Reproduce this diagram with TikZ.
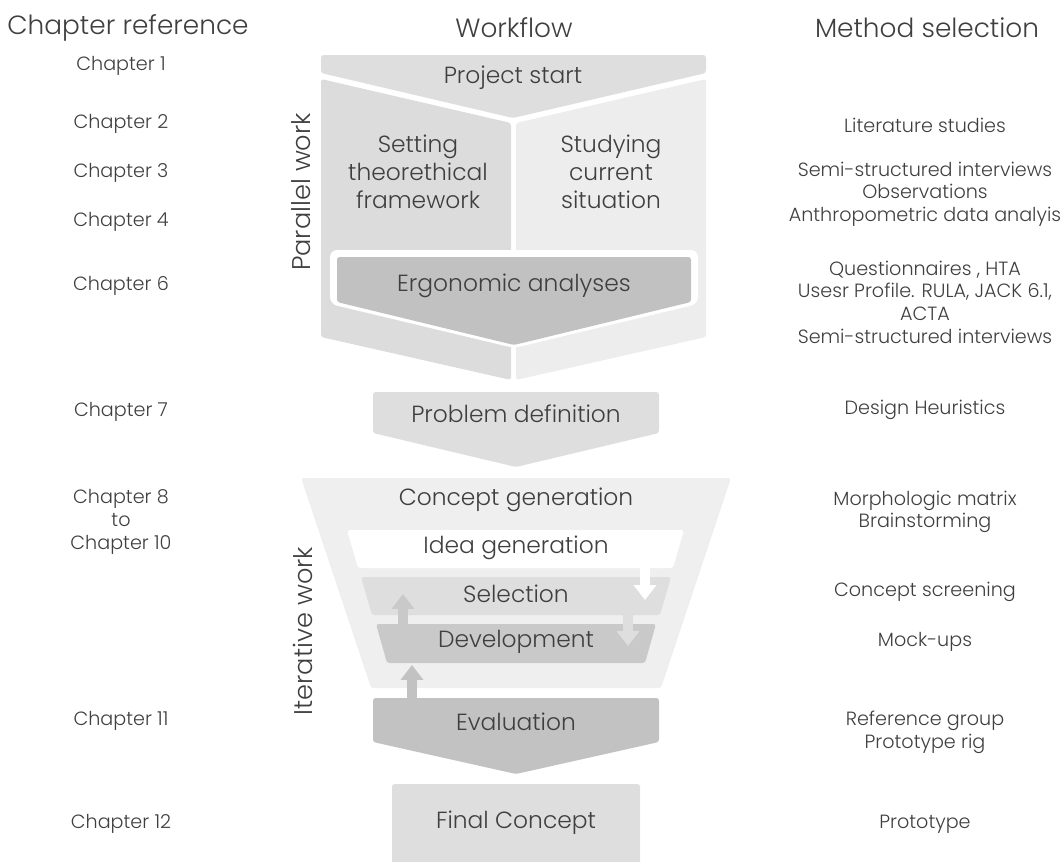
\documentclass[tikz,border=0pt]{standalone}
\usepackage{fontspec}
\IfFontExistsTF{Poppins Light}{\setmainfont{Poppins Light}}{\setmainfont{Poppins}}
\usetikzlibrary{arrows.meta}

\definecolor{txtgray}{HTML}{3F3F3F}
\definecolor{startgray}{HTML}{DEDEDF}
\definecolor{leftgray}{HTML}{DCDCDD}
\definecolor{rightgray}{HTML}{EDEDED}
\definecolor{ergogray}{HTML}{C1C1C2}
\definecolor{funnelgray}{HTML}{EFEFEF}
\definecolor{selgray}{HTML}{DEDEDE}
\definecolor{devgray}{HTML}{C9C9C9}
\definecolor{evalgray}{HTML}{C2C2C2}

\begin{document}
\begin{tikzpicture}[x=0.02cm, y=-0.02cm, rounded corners=1.5pt,
    every node/.style={text=txtgray, align=center, inner sep=0pt},
    head/.style={font=\fontsize{15}{18}\selectfont},
    chap/.style={font=\fontsize{10.9}{12.9}\selectfont},
    stage/.style={font=\fontsize{13.3}{16}\selectfont},
    side/.style={font=\fontsize{14.6}{17}\selectfont, rotate=90},
    loop/.style={line width=5.67pt, -{Triangle[width=12.5pt,length=8.5pt]}}]
    \useasboundingbox (0,0) rectangle (1062,862);

    % column heads
    \node (hchap) at (128,28) [head] {Chapter reference};
    \node (hflow) at (514,28) [head] {Workflow};
    \node (hmeth) at (927,28) [head] {Method selection};

    % parallel work
    \fill [startgray] (321,55) -- (706,55) -- (706,73) -- (513,118) -- (321,73) -- cycle;
    \fill [leftgray] (321,79) -- (511,123) -- (511,380) -- (321,337) -- cycle;
    \fill [rightgray] (516,123) -- (706,79) -- (706,337) -- (516,380) -- cycle;
    \fill [white, rounded corners=4pt] (330,250) -- (698,250) -- (698,304) -- (514,348) -- (330,304) -- cycle;
    \fill [ergogray] (337,257) -- (691,257) -- (691,302) -- (514,345) -- (337,302) -- cycle;
    \node (start) at (513,78) [stage] {Project start};
    \node (theory) at (418,172) [stage] {Setting\\theorethical\\framework};
    \node (current) at (611,172) [stage] {Studying\\current\\situation};
    \node (ergo) at (514,286) [stage] {Ergonomic analyses};
    \node (parallel) at (301,192) [side] {Parallel work};

    % problem definition
    \fill [selgray] (373,392) -- (659,392) -- (659,433) -- (516,467) -- (373,433) -- cycle;
    \node (problem) at (516,414) [stage] {Problem definition};

    % iterative work
    \fill [funnelgray] (301,478) -- (731,478) -- (661,688) -- (371,688) -- cycle;
    \fill [white] (347,530) -- (684,530) -- (673,568) -- (358,568) -- cycle;
    \fill [selgray] (361,577) -- (671,577) -- (660,615) -- (372,615) -- cycle;
    \fill [devgray] (376,624) -- (656,624) -- (645,663) -- (387,663) -- cycle;
    \node (concept) at (516,500) [stage] {Concept generation};
    \node (idea) at (516,548) [stage] {Idea generation};
    \node (select) at (516,594) [stage] {Selection};
    \node (develop) at (516,642) [stage] {Development};
    \node (iterative) at (303,631) [side] {Iterative work};

    \coordinate (ideaout) at (645,564);
    \coordinate (selin) at (645,600);
    \coordinate (selout) at (628,612);
    \coordinate (devin) at (628,646);
    \coordinate (devout) at (403,627);
    \coordinate (selback) at (403,594);
    \coordinate (evalout) at (412,701);
    \coordinate (devback) at (412,665);
    \draw [loop, white] (ideaout) -- (selin);
    \draw [loop, selgray] (selout) -- (devin);
    \draw [loop, devgray] (devout) -- (selback);
    \draw [loop, evalgray] (evalout) -- (devback);

    % evaluation and final concept
    \fill [evalgray] (373,698) -- (659,698) -- (659,742) -- (516,774) -- (373,742) -- cycle;
    \node (eval) at (516,722) [stage] {Evaluation};
    \fill [selgray] (392,862) -- (392,784) -- (640,784) -- (640,862);
    \node (final) at (516,823) [stage] {Final Concept};

    % chapter reference
    \node (c1) at (121,66) [chap] {Chapter 1};
    \node (c2) at (121,124) [chap] {Chapter 2};
    \node (c3) at (121,173) [chap] {Chapter 3};
    \node (c4) at (121,222) [chap] {Chapter 4};
    \node (c6) at (121,286) [chap] {Chapter 6};
    \node (c7) at (121,412) [chap] {Chapter 7};
    \node (c8) at (121,522) [chap] {Chapter 8\\to\\Chapter 10};
    \node (c11) at (121,721) [chap] {Chapter 11};
    \node (c12) at (121,824) [chap] {Chapter 12};

    % method selection
    \node (m2) at (925,125) [chap] {Literature studies};
    \node (m3) at (925,194) [chap] {Semi-structured interviews\\Observations\\Anthropometric data analyis};
    \node (m6) at (925,302) [chap] {Questionnaires , HTA\\Usesr Profile. RULA, JACK 6.1,\\ACTA\\Semi-structured interviews};
    \node (m7) at (925,410) [chap] {Design Heuristics};
    \node (m8) at (925,512) [chap] {Morphologic matrix\\Brainstorming};
    \node (msel) at (925,592) [chap] {Concept screening};
    \node (mdev) at (925,642) [chap] {Mock-ups};
    \node (m11) at (925,732) [chap] {Reference group\\Prototype rig};
    \node (m12) at (925,824) [chap] {Prototype};
\end{tikzpicture}
\end{document}
